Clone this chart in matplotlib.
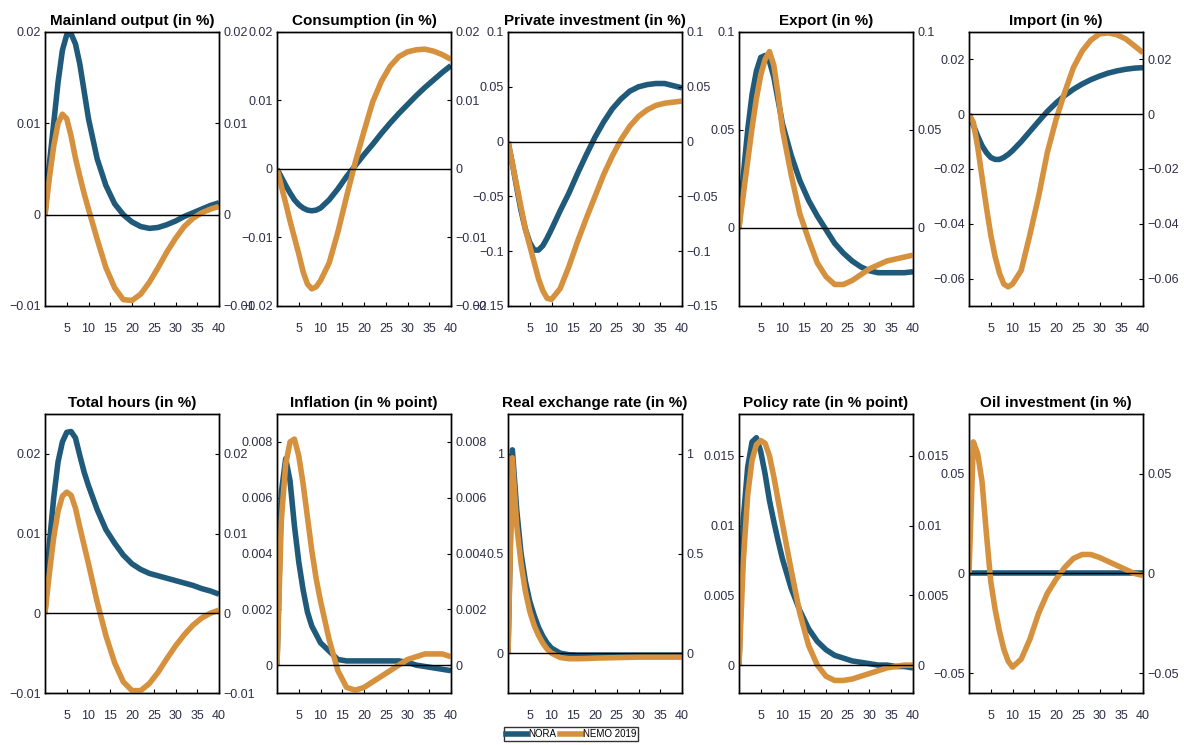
import numpy as np
import matplotlib
matplotlib.use("Agg")
import matplotlib.pyplot as plt
from matplotlib.lines import Line2D

plt.rcParams['font.family'] = ['Liberation Sans', 'DejaVu Sans']

# horizon (quarters)
t = [0, 1, 2, 3, 4, 5, 6, 7, 8, 9, 10, 12, 14, 16, 18, 20, 22, 24, 26, 28, 30, 32, 34, 36, 38, 40]

output_nora = [0, 0.0055, 0.0100, 0.0145, 0.0180, 0.0197, 0.0198, 0.0187, 0.0165, 0.0135, 0.0105, 0.0061, 0.0032,
               0.0012, 0.0000, -0.0008, -0.0013, -0.0015, -0.0014, -0.0011, -0.0007, -0.0002, 0.0002, 0.0006, 0.0010, 0.0013]
output_nemo = [0, 0.0040, 0.0075, 0.0100, 0.0110, 0.0105, 0.0086, 0.0062, 0.0042, 0.0023, 0.0006, -0.0027, -0.0058,
               -0.0080, -0.0093, -0.0094, -0.0087, -0.0074, -0.0058, -0.0041, -0.0026, -0.0013, -0.0004, 0.0002, 0.0006, 0.0009]

consumption_nora = [0, -0.0012, -0.0024, -0.0035, -0.0045, -0.0052, -0.0057, -0.0060, -0.0061, -0.0060, -0.0057, -0.0045,
                    -0.0029, -0.0011, 0.0005, 0.0021, 0.0036, 0.0052, 0.0067, 0.0081, 0.0094, 0.0107, 0.0119, 0.0130, 0.0141, 0.0151]
consumption_nemo = [0, -0.0025, -0.0050, -0.0076, -0.0100, -0.0124, -0.0150, -0.0168, -0.0175, -0.0172, -0.0163, -0.0137,
                    -0.0092, -0.0040, 0.0010, 0.0055, 0.0098, 0.0128, 0.0150, 0.0164, 0.0171, 0.0174, 0.0175, 0.0172, 0.0167, 0.0160]

invest_nora = [0, -0.020, -0.042, -0.063, -0.080, -0.092, -0.099, -0.099, -0.095, -0.088, -0.080, -0.063, -0.047,
               -0.029, -0.012, 0.004, 0.018, 0.030, 0.039, 0.046, 0.050, 0.052, 0.053, 0.053, 0.051, 0.049]
invest_nemo = [0, -0.020, -0.040, -0.060, -0.080, -0.095, -0.110, -0.125, -0.136, -0.143, -0.144, -0.134, -0.114,
               -0.091, -0.070, -0.050, -0.030, -0.013, 0.002, 0.014, 0.023, 0.029, 0.033, 0.035, 0.036, 0.037]

export_nora = [0, 0.027, 0.050, 0.068, 0.080, 0.087, 0.088, 0.085, 0.077, 0.065, 0.053, 0.037, 0.024,
               0.014, 0.006, -0.001, -0.008, -0.013, -0.017, -0.020, -0.022, -0.023, -0.023, -0.023, -0.023, -0.0225]
export_nemo = [0, 0.017, 0.034, 0.051, 0.066, 0.078, 0.086, 0.090, 0.083, 0.068, 0.050, 0.027, 0.007,
               -0.006, -0.018, -0.025, -0.029, -0.029, -0.027, -0.024, -0.021, -0.019, -0.017, -0.016, -0.015, -0.014]

import_nora = [0, -0.004, -0.008, -0.0115, -0.014, -0.0158, -0.0165, -0.0165, -0.0158, -0.0147, -0.0133, -0.0100, -0.0063,
               -0.0026, 0.0010, 0.0041, 0.0068, 0.0091, 0.0110, 0.0126, 0.0139, 0.0150, 0.0158, 0.0164, 0.0168, 0.0170]
import_nemo = [0, -0.003, -0.012, -0.023, -0.034, -0.044, -0.052, -0.058, -0.062, -0.063, -0.062, -0.057, -0.044,
               -0.030, -0.014, -0.002, 0.008, 0.017, 0.023, 0.027, 0.0293, 0.0297, 0.029, 0.0275, 0.025, 0.0224]

hours_nora = [0, 0.0087, 0.0145, 0.0190, 0.0215, 0.0227, 0.0228, 0.0220, 0.0198, 0.0177, 0.0160, 0.0130, 0.0105,
              0.0088, 0.0073, 0.0062, 0.0055, 0.0050, 0.0047, 0.0044, 0.0041, 0.0038, 0.0035, 0.0031, 0.0028, 0.0024]
hours_nemo = [0, 0.0050, 0.0095, 0.0128, 0.0147, 0.0152, 0.0148, 0.0132, 0.0108, 0.0085, 0.0062, 0.0014, -0.0028,
              -0.0062, -0.0086, -0.0097, -0.0097, -0.0088, -0.0074, -0.0057, -0.0041, -0.0027, -0.0015, -0.0006, 0.0000, 0.0004]

inflation_nora = [0, 0.0062, 0.0074, 0.0066, 0.0050, 0.0037, 0.0027, 0.0019, 0.0014, 0.0011, 0.0008, 0.0005, 0.0002,
                  0.00015, 0.00015, 0.00015, 0.00015, 0.00015, 0.00015, 0.00015, 0.0001, 0.0000, -0.00005, -0.0001, -0.00015, -0.0002]
inflation_nemo = [0, 0.0052, 0.0072, 0.0080, 0.0081, 0.0075, 0.0065, 0.0053, 0.0041, 0.0031, 0.0023, 0.0009, -0.0002,
                  -0.0008, -0.0009, -0.0008, -0.0006, -0.0004, -0.0002, 0.0000, 0.0002, 0.0003, 0.0004, 0.0004, 0.0004, 0.0003]

rer_nora = [0, 1.02, 0.72, 0.50, 0.36, 0.26, 0.19, 0.13, 0.085, 0.05, 0.025, 0.0, -0.008,
            -0.01, -0.01, -0.01, -0.01, -0.01, -0.01, -0.01, -0.01, -0.01, -0.01, -0.01, -0.01, -0.01]
rer_nemo = [0, 0.98, 0.64, 0.45, 0.31, 0.21, 0.14, 0.09, 0.05, 0.02, 0.0, -0.022, -0.028,
            -0.028, -0.027, -0.025, -0.024, -0.023, -0.022, -0.021, -0.02, -0.02, -0.02, -0.02, -0.02, -0.02]

policy_nora = [0, 0.0105, 0.0142, 0.0160, 0.0163, 0.0153, 0.0137, 0.0118, 0.0103, 0.0089, 0.0076, 0.0055, 0.0039,
               0.0026, 0.0017, 0.0011, 0.0007, 0.0005, 0.0003, 0.0002, 0.0001, 0.0000, 0.0000, -0.0001, -0.0001, -0.0002]
policy_nemo = [0, 0.0075, 0.0122, 0.0147, 0.0158, 0.0161, 0.0159, 0.0150, 0.0135, 0.0118, 0.0101, 0.0068, 0.0037,
               0.0014, 0.0000, -0.0008, -0.0011, -0.0011, -0.0010, -0.0008, -0.0006, -0.0004, -0.0002, -0.0001, 0.0000, 0.0000]

oil_nora = [0] * 26
oil_nemo = [0, 0.066, 0.060, 0.046, 0.020, -0.004, -0.018, -0.029, -0.038, -0.044, -0.047, -0.043, -0.033,
            -0.020, -0.010, -0.003, 0.003, 0.0075, 0.0095, 0.0095, 0.008, 0.006, 0.004, 0.002, 0.000, -0.001]

titles = ["Mainland output (in %)", "Consumption (in %)", "Private investment (in %)", "Export (in %)", "Import (in %)",
          "Total hours (in %)", "Inflation (in % point)", "Real exchange rate (in %)", "Policy rate (in % point)",
          "Oil investment (in %)"]
nora = [output_nora, consumption_nora, invest_nora, export_nora, import_nora,
        hours_nora, inflation_nora, rer_nora, policy_nora, oil_nora]
nemo = [output_nemo, consumption_nemo, invest_nemo, export_nemo, import_nemo,
        hours_nemo, inflation_nemo, rer_nemo, policy_nemo, oil_nemo]
ylims = [(-0.01, 0.02), (-0.02, 0.02), (-0.15, 0.1), (-0.04, 0.1), (-0.07, 0.03),
         (-0.01, 0.025), (-0.001, 0.009), (-0.2, 1.2), (-0.002, 0.018), (-0.06, 0.08)]
yticks = [[-0.01, 0, 0.01, 0.02], [-0.02, -0.01, 0, 0.01, 0.02], [-0.15, -0.1, -0.05, 0, 0.05, 0.1],
          [0, 0.05, 0.1], [-0.06, -0.04, -0.02, 0, 0.02],
          [-0.01, 0, 0.01, 0.02], [0, 0.002, 0.004, 0.006, 0.008], [0, 0.5, 1],
          [0, 0.005, 0.01, 0.015], [-0.05, 0, 0.05]]

NORA_COL = '#1f5a7a'
NEMO_COL = '#d6913e'
LABEL_COL = '#2e2e48'

W, H = 1184, 745
fig = plt.figure(figsize=(W / 100, H / 100), dpi=100)

lefts = [45, 277, 508, 739, 969]
rows = [(32, 306), (414, 693)]


def fmt(v):
    s = "{:g}".format(v)
    return s.replace("-", "\u2212")


for i in range(10):
    r, c = divmod(i, 5)
    top, bot = rows[r]
    rect = [lefts[c] / W, 1 - bot / H, 174 / W, (bot - top) / H]
    ax = fig.add_axes(rect)
    ax2 = ax.twinx()

    ax.plot(t, nora[i], color=NORA_COL, lw=4, solid_capstyle='butt')
    ax2.plot(t, nemo[i], color=NEMO_COL, lw=4, solid_capstyle='butt')
    ax2.axhline(0, color='black', lw=1)

    for a in (ax, ax2):
        a.set_xlim(0, 40)
        a.set_ylim(*ylims[i])
        a.set_yticks(yticks[i])
        a.set_yticklabels([fmt(v) for v in yticks[i]])
        for sp in a.spines.values():
            sp.set_linewidth(1)
            sp.set_color('black')
    ax.set_xticks([5, 10, 15, 20, 25, 30, 35, 40])
    ax.tick_params(axis='x', direction='in', length=3, pad=12, labelsize=9, labelcolor=LABEL_COL)
    ax.tick_params(axis='y', direction='in', length=3, pad=3, labelsize=9, labelcolor=LABEL_COL)
    ax2.tick_params(axis='y', direction='in', length=3, pad=3, labelsize=9, labelcolor=LABEL_COL)
    ax.set_title(titles[i], fontsize=11, fontweight='bold', pad=5)

handles = [Line2D([0], [0], color=NORA_COL, lw=4), Line2D([0], [0], color=NEMO_COL, lw=4)]
leg = fig.legend(handles, ["NORA", "NEMO 2019"], loc='center', bbox_to_anchor=(571 / W, 1 - 734 / H),
                 ncol=2, fontsize=7, frameon=True, fancybox=False, edgecolor='black',
                 handlelength=2.2, handletextpad=0.1, columnspacing=0.4, borderpad=0.25)
leg.get_frame().set_linewidth(1)

fig.savefig("out.png", dpi=100)
